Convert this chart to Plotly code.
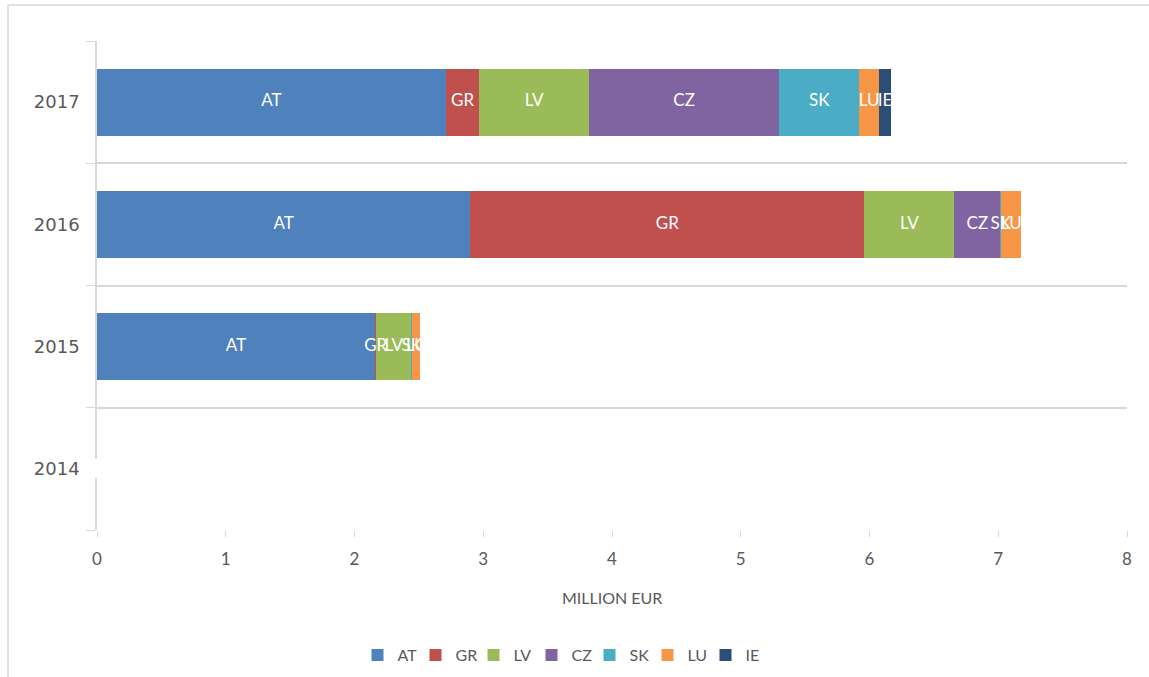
import plotly.graph_objects as go

years = ["2014", "2015", "2016", "2017"]
countries = ["AT", "GR", "LV", "CZ", "SK", "LU", "IE"]
AT = [None, 2.16, 2.90, 2.71]
GR = [None, 0.01, 3.06, 0.26]
LV = [None, 0.27, 0.70, 0.85]
CZ = [None, None, 0.355, 1.48]
SK = [None, 0.01, 0.01, 0.62]
LU = [None, 0.06, 0.155, 0.155]
IE = [None, None, None, 0.09]
series = [AT, GR, LV, CZ, SK, LU, IE]
colors = ["#4F81BD", "#C0504D", "#9BBB59", "#8064A2", "#4BACC6", "#F79646", "#2C4D75"]
x_ticks = [0, 1, 2, 3, 4, 5, 6, 7, 8]

FONT = "Lato"
GRID = "#d9d9d9"
TXT = "#595959"

fig = go.Figure()
for name, vals, col in zip(countries, series, colors):
    fig.add_trace(go.Bar(
        y=years, x=vals, name=name, orientation="h",
        marker=dict(color=col, line=dict(width=0)),
        hoverinfo="x+name",
    ))

# data labels on top of all bars (centre of each stacked segment)
lab_x, lab_y, lab_t = [], [], []
for i, yr in enumerate(years):
    base = 0.0
    for name, vals in zip(countries, series):
        v = vals[i]
        if v is None:
            continue
        lab_x.append(base + v / 2)
        lab_y.append(yr)
        lab_t.append(name)
        base += v
fig.add_trace(go.Scatter(
    x=lab_x, y=lab_y, text=lab_t, mode="text", showlegend=False,
    textposition="middle center", cliponaxis=False,
    textfont=dict(color="white", size=17, family=FONT), hoverinfo="skip",
))

fig.update_layout(
    barmode="stack",
    bargap=0.45,
    width=1149, height=677,
    margin=dict(l=97, r=22, t=41, b=147, autoexpand=False),
    plot_bgcolor="white", paper_bgcolor="white",
    font=dict(family=FONT, color=TXT, size=16),
    showlegend=True,
    legend=dict(orientation="h", x=0.45, y=-0.256, xanchor="center", yanchor="middle",
                font=dict(size=16, color=TXT, family=FONT), traceorder="normal",
                entrywidth=13, itemclick=False),
    xaxis=dict(range=[0, 8], tickvals=x_ticks, ticktext=[str(t) for t in x_ticks],
               showgrid=False, zeroline=False, showline=False,
               ticks="outside", ticklen=6, tickcolor=GRID, automargin=False,
               ticklabelstandoff=8,
               tickfont=dict(size=17, color=TXT)),
    yaxis=dict(categoryorder="array", categoryarray=years, range=[-0.5, 3.5],
               type="category", tickson="boundaries", ticks="outside", ticklen=9,
               tickcolor=GRID, showgrid=True, gridcolor=GRID, gridwidth=1.5,
               showline=True, linecolor=GRID, linewidth=1.5, ticklabelstandoff=12,
               automargin=False,
               tickfont=dict(size=18, color=TXT, family="DejaVu Sans")),
    annotations=[dict(text="MILLION EUR", xref="paper", yref="paper", x=0.5, y=-0.139,
                      xanchor="center", yanchor="middle", showarrow=False,
                      font=dict(size=16, color=TXT, family=FONT))],
    shapes=[
        dict(type="line", xref="paper", yref="paper", x0=-0.0864, x1=-0.0864, y0=-0.31, y1=1.0736,
             line=dict(color=GRID, width=1.5)),
        dict(type="line", xref="paper", yref="paper", x0=-0.0864, x1=1.05, y0=1.0736, y1=1.0736,
             line=dict(color=GRID, width=1.5)),
        dict(type="rect", xref="paper", yref="paper", x0=-0.004, x1=0.004, y0=0.106, y1=0.145,
             fillcolor="white", line=dict(width=0), layer="above"),
    ],
)

fig.write_html("out.html", config={"displayModeBar": False},
               post_script="document.body.style.margin='0';document.body.style.padding='0';")
